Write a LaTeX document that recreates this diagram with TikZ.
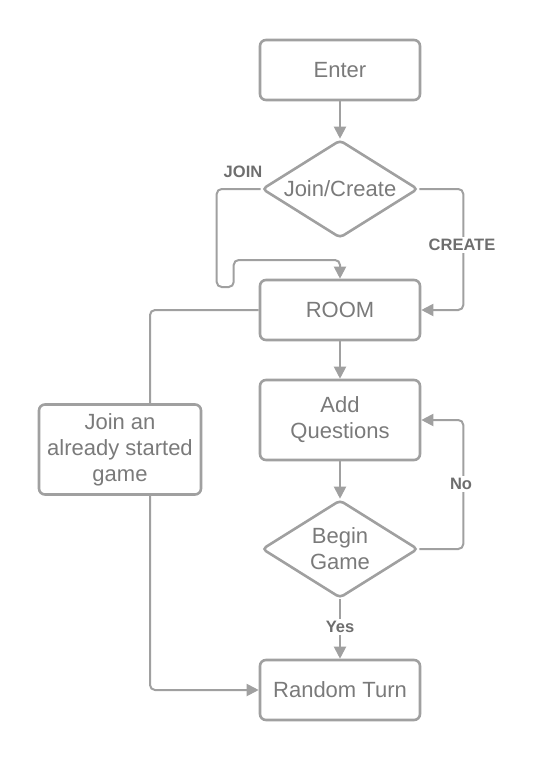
\documentclass[tikz,border=0pt]{standalone}
\usepackage{fontspec}
\setmainfont{Liberation Sans}
\usetikzlibrary{shapes.geometric,arrows.meta}
\definecolor{linegray}{HTML}{A0A0A0}
\definecolor{textgray}{HTML}{7A7A7A}
\definecolor{labelgray}{HTML}{6E6E6E}
\begin{document}
\begin{tikzpicture}[x=1pt, y=-1pt,
  box/.style={draw=linegray, line width=2.6pt, rounded corners=6pt, text=textgray,
    minimum width=160pt, inner sep=0pt, align=center, font=\fontsize{22}{26}\selectfont},
  decision/.style={diamond, draw=linegray, line width=2.6pt, rounded corners=4pt, text=textgray,
    shape aspect=1.6, minimum width=156pt, minimum height=98pt, inner sep=0pt,
    align=center, font=\fontsize{22}{26}\selectfont},
  conn/.style={draw=linegray, line width=2pt, rounded corners=5pt},
  lbl/.style={text=labelgray, font=\fontsize{16.5}{19}\selectfont\bfseries, fill=white, inner sep=2pt},
  >={Triangle[length=12pt, width=12pt]}]
\useasboundingbox (0,0) rectangle (537,760);
\node [box, minimum height=60pt] (enter) at (340, 70) {Enter};
\node [decision] (joincreate) at (340, 189) {Join/Create};
\node [box, minimum height=60pt] (room) at (340, 310) {ROOM};
\node [box, minimum height=80pt] (questions) at (340, 420) {Add\\Questions};
\node [decision] (begingame) at (340, 549) {Begin\\Game};
\node [box, minimum height=60pt] (turn) at (340, 690) {Random Turn};
\node [box, minimum width=162pt, minimum height=90pt] (started) at (120, 449.5) {Join an\\already started\\game};
\draw [conn, ->] (enter)--(joincreate);
\draw [conn, ->] (joincreate.west)--++(-44,0)--++(0,98)--++(17,0)--++(0,-27)-|(room.north);
\draw [conn, ->] (joincreate.east)--++(44,0)|-(room.east);
\draw [conn, ->] (room)--(questions);
\draw [conn] (room.west)-|([xshift=30pt]started.north);
\draw [conn, ->] ([xshift=30pt]started.south)|-(turn.west);
\draw [conn, ->] (questions)--(begingame);
\draw [conn, ->] (begingame.east)--++(44,0)|-(questions.east);
\draw [conn, ->] (begingame)--(turn);
\node [lbl, fill=none] (joinlbl) at (243, 172){JOIN};
\node [lbl] (createlbl) at (462, 245){CREATE};
\node [lbl] (nolbl) at (461, 484){No};
\node [lbl] (yeslbl) at (340, 627){Yes};
\end{tikzpicture}
\end{document}
